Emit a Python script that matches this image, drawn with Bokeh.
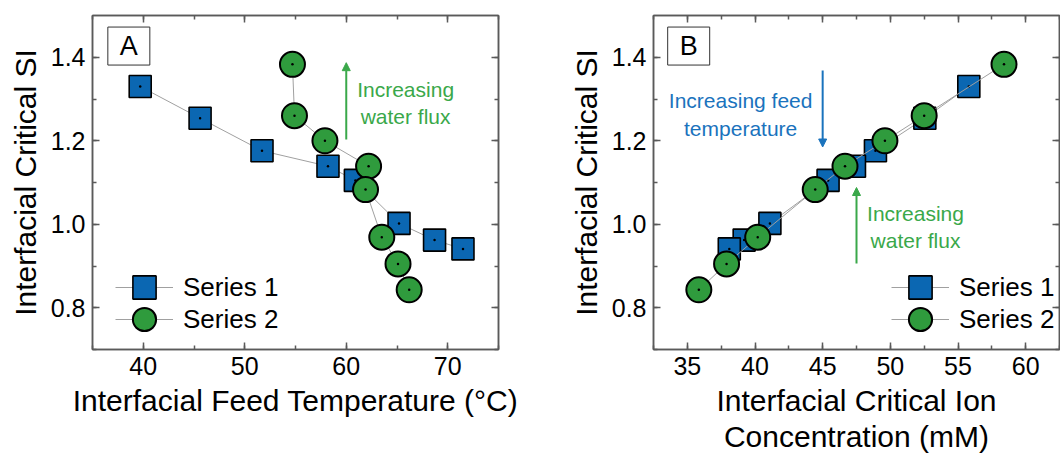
from bokeh.plotting import figure
from bokeh.models import (Range1d, LinearAxis, SingleIntervalTicker, Legend, LegendItem,
                          Label, Arrow, NormalHead, PrintfTickFormatter)
from bokeh.layouts import row
from bokeh.embed import file_html
from bokeh.resources import INLINE

# ---------------- data ----------------
si_series1 = [1.330, 1.254, 1.176, 1.139, 1.105, 1.002, 0.962, 0.941]
temp_series1 = [39.7, 45.6, 51.7, 58.2, 60.9, 65.2, 68.7, 71.5]
conc_series1 = [55.8, 52.55, 48.9, 47.35, 45.4, 41.1, 39.2, 38.1]

si_series2 = [1.383, 1.260, 1.200, 1.139, 1.083, 0.969, 0.905, 0.843]
temp_series2 = [54.7, 54.9, 57.9, 62.2, 61.9, 63.5, 65.1, 66.2]
conc_series2 = [58.4, 52.5, 49.6, 46.65, 44.45, 40.2, 37.9, 35.85]

series_names = ["Series 1", "Series 2"]
panel_letters = ["A", "B"]
x_labels = ["Interfacial Feed Temperature (°C)",
            "Interfacial Critical Ion\nConcentration (mM)"]
y_label = "Interfacial Critical SI"
note_flux = "Increasing\nwater flux"
note_temp = "Increasing feed\ntemperature"

# ---------------- style ----------------
FONT = "Liberation Sans"
BLUE = "#0b67b2"
GREEN = "#2f9b3d"
TXT_GREEN = "#3aa84a"
TXT_BLUE = "#1a73bd"
LINE_GRAY = "#a0a0a0"
AX = "#5a5a5a"
FW, FH = 406, 334


def style_axis(ax, show_labels=True):
    ax.axis_line_color = AX
    ax.axis_line_width = 1.5
    ax.major_tick_line_color = AX
    ax.major_tick_line_width = 1.5
    ax.minor_tick_line_color = AX
    ax.minor_tick_line_width = 1.5
    ax.major_tick_in = 7
    ax.major_tick_out = 0
    ax.minor_tick_in = 4
    ax.minor_tick_out = 0
    if show_labels:
        ax.major_label_text_font = FONT
        ax.major_label_text_font_size = "25px"
        ax.major_label_text_color = "black"
        ax.major_label_standoff = 7
        ax.axis_label_text_font = FONT
        ax.axis_label_text_font_size = "30px"
        ax.axis_label_text_font_style = "normal"
        ax.axis_label_text_color = "black"
        ax.axis_label_standoff = 6
        ax.axis_label_text_line_height = 1.1
    else:
        ax.major_label_text_font_size = "1px"
        ax.major_label_text_color = None
        ax.major_label_standoff = 0
        ax.axis_label = None


def make_panel(xr, x_int, xs1, xs2, xlabel, letter, letter_x, legend_x, right_border):
    p = figure(frame_width=FW, frame_height=FH,
               x_range=Range1d(*xr), y_range=Range1d(0.7, 1.5),
               output_backend="svg", toolbar_location=None,
               min_border_left=92, min_border_right=right_border,
               min_border_top=15, min_border_bottom=0)
    p.xgrid.visible = False
    p.ygrid.visible = False
    p.outline_line_color = AX
    p.outline_line_width = 1.5
    p.background_fill_color = "white"
    p.border_fill_color = "white"

    xt = SingleIntervalTicker(interval=x_int, num_minor_ticks=2)
    yt = SingleIntervalTicker(interval=0.2, num_minor_ticks=2)
    p.xaxis.ticker = xt
    p.yaxis.ticker = yt
    p.yaxis.formatter = PrintfTickFormatter(format="%.1f")
    p.xaxis.axis_label = xlabel
    p.yaxis.axis_label = y_label
    style_axis(p.xaxis[0])
    style_axis(p.yaxis[0])
    top = LinearAxis(ticker=xt)
    right = LinearAxis(ticker=yt)
    style_axis(top, False)
    style_axis(right, False)
    p.add_layout(top, "above")
    p.add_layout(right, "right")

    l1 = p.line(xs1, si_series1, line_color=LINE_GRAY, line_width=1)
    m1 = p.scatter(xs1, si_series1, marker="square", size=22, fill_color=BLUE,
                   line_color="black", line_width=1.6)
    p.scatter(xs1, si_series1, marker="circle", size=2.5, fill_color="black", line_color=None)
    l2 = p.line(xs2, si_series2, line_color=LINE_GRAY, line_width=1)
    m2 = p.scatter(xs2, si_series2, marker="circle", size=25, fill_color=GREEN,
                   line_color="black", line_width=2)
    p.scatter(xs2, si_series2, marker="circle", size=2.5, fill_color="black", line_color=None)

    legend_y = [33, 1]
    for i, (ln, mk) in enumerate([(l1, m1), (l2, m2)]):
        lg = Legend(items=[LegendItem(label=series_names[i], renderers=[ln, mk])],
                    location=(legend_x, legend_y[i]), glyph_width=58, glyph_height=58,
                    spacing=0, padding=0, margin=0, label_standoff=10,
                    label_text_font=FONT, label_text_font_size="26px",
                    label_text_color="black",
                    background_fill_alpha=0, border_line_color=None)
        p.add_layout(lg)

    p.add_layout(Label(x=letter_x, y=1.4268, text=letter, text_align="center",
                       text_baseline="middle", text_font=FONT, text_font_size="27px",
                       text_color="black", border_line_color="#333333", border_line_width=1,
                       background_fill_color="white",
                       padding=dict(left=12, right=12, top=4, bottom=4)))
    return p


pA = make_panel((35, 75), 10, temp_series1, temp_series2, x_labels[0], panel_letters[0],
                38.58, 23, 63)
pA.add_layout(Arrow(x_start=60, y_start=1.203, x_end=60, y_end=1.387,
                    line_color=TXT_GREEN, line_width=2,
                    end=NormalHead(size=8, fill_color=TXT_GREEN, line_color=TXT_GREEN)))
pA.add_layout(Label(x=65.85, y=1.351, text=note_flux, text_align="center",
                    text_baseline="top", text_font=FONT, text_font_size="21px",
                    text_color=TXT_GREEN, text_line_height=1.2))

pB = make_panel((32.5, 62.5), 5, conc_series1, conc_series2, x_labels[1], panel_letters[1],
                35.1, 238, 1)
pB.add_layout(Arrow(x_start=45, y_start=1.368, x_end=45, y_end=1.185,
                    line_color=TXT_BLUE, line_width=2,
                    end=NormalHead(size=8, fill_color=TXT_BLUE, line_color=TXT_BLUE)))
pB.add_layout(Label(x=38.94, y=1.323, text=note_temp, text_align="center",
                    text_baseline="top", text_font=FONT, text_font_size="21px",
                    text_color=TXT_BLUE, text_line_height=1.2))
pB.add_layout(Arrow(x_start=47.5, y_start=0.906, x_end=47.5, y_end=1.088,
                    line_color=TXT_GREEN, line_width=2,
                    end=NormalHead(size=8, fill_color=TXT_GREEN, line_color=TXT_GREEN)))
pB.add_layout(Label(x=51.86, y=1.054, text=note_flux, text_align="center",
                    text_baseline="top", text_font=FONT, text_font_size="21px",
                    text_color=TXT_GREEN, text_line_height=1.2))

layout = row(pA, pB)
open("out.html", "w").write(file_html(layout, INLINE))
